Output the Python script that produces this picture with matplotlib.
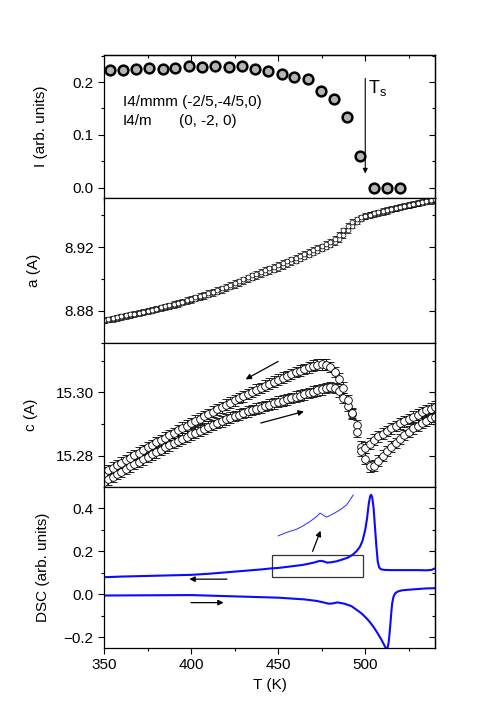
import numpy as np
import matplotlib
matplotlib.use("Agg")
import matplotlib.pyplot as plt
from matplotlib.ticker import MultipleLocator, NullFormatter
from matplotlib.patches import Rectangle

plt.rcParams['font.family'] = ['Liberation Sans', 'DejaVu Sans']
plt.rcParams['mathtext.default'] = 'regular'
plt.rcParams['font.size'] = 11

# --- panel 1: superstructure peak intensity
I_T = [353.4, 360.9, 368.2, 375.9, 383.7, 391.0, 398.9, 406.3, 413.8, 421.5, 429.0, 436.6,
       443.9, 452.0, 459.2, 467.1, 474.4, 482.0, 489.7, 497.0, 504.8, 512.3, 519.8]
I_val = [0.222, 0.223, 0.225, 0.227, 0.225, 0.227, 0.230, 0.228, 0.230, 0.228, 0.230, 0.225,
         0.221, 0.216, 0.210, 0.206, 0.183, 0.167, 0.134, 0.060, 0.0, 0.0, 0.0]

# --- panels 2, 3: lattice parameters (scan every 2.5 K)
scan_T = np.arange(350, 540.1, 2.5)

a_heat = [8.8737, 8.8743, 8.8748, 8.8754, 8.8760, 8.8766, 8.8771, 8.8777, 8.8783, 8.8789,
          8.8795, 8.8801, 8.8808, 8.8815, 8.8822, 8.8829, 8.8836, 8.8843, 8.8851, 8.8859,
          8.8867, 8.8875, 8.8884, 8.8892, 8.8901, 8.8911, 8.8920, 8.8930, 8.8940, 8.8951,
          8.8962, 8.8973, 8.8985, 8.8996, 8.9007, 8.9018, 8.9030, 8.9039, 8.9049, 8.9058,
          8.9068, 8.9080, 8.9091, 8.9103, 8.9115, 8.9127, 8.9140, 8.9152, 8.9165, 8.9177,
          8.9190, 8.9202, 8.9215, 8.9230, 8.9250, 8.9275, 8.9305, 8.9335, 8.9360, 8.9378,
          8.9392, 8.9401, 8.9408, 8.9414, 8.9420, 8.9427, 8.9435, 8.9442, 8.9450, 8.9456,
          8.9462, 8.9468, 8.9474, 8.9479, 8.9485, 8.9490, 8.9496]
a_cool = [8.8740, 8.8746, 8.8752, 8.8758, 8.8764, 8.8770, 8.8776, 8.8782, 8.8788, 8.8794,
          8.8800, 8.8806, 8.8813, 8.8820, 8.8827, 8.8834, 8.8842, 8.8849, 8.8857, 8.8866,
          8.8874, 8.8883, 8.8892, 8.8901, 8.8910, 8.8920, 8.8930, 8.8940, 8.8951, 8.8962,
          8.8973, 8.8985, 8.8997, 8.9009, 8.9021, 8.9033, 8.9045, 8.9056, 8.9066, 8.9077,
          8.9088, 8.9099, 8.9110, 8.9122, 8.9133, 8.9145, 8.9157, 8.9169, 8.9181, 8.9193,
          8.9205, 8.9218, 8.9232, 8.9250, 8.9275, 8.9305, 8.9335, 8.9358, 8.9374, 8.9386,
          8.9396, 8.9404, 8.9411, 8.9418, 8.9425, 8.9432, 8.9439, 8.9446, 8.9453, 8.9459,
          8.9465, 8.9471, 8.9477, 8.9482, 8.9488, 8.9493, 8.9499]

c_heat = [15.2718, 15.2726, 15.2734, 15.2742, 15.2750, 15.2758, 15.2766, 15.2774, 15.2781, 15.2789,
          15.2796, 15.2804, 15.2811, 15.2818, 15.2826, 15.2833, 15.2840, 15.2847, 15.2854, 15.2860,
          15.2867, 15.2873, 15.2879, 15.2885, 15.2891, 15.2897, 15.2903, 15.2909, 15.2915, 15.2920,
          15.2925, 15.2930, 15.2935, 15.2940, 15.2944, 15.2948, 15.2952, 15.2957, 15.2961, 15.2966,
          15.2970, 15.2974, 15.2978, 15.2982, 15.2986, 15.2990, 15.2994, 15.2998, 15.3002, 15.3006,
          15.3010, 15.3014, 15.3017, 15.3014, 15.3003, 15.2982, 15.2958, 15.2932, 15.2897, 15.2829,
          15.2790, 15.2766, 15.2768, 15.2784, 15.2800, 15.2815, 15.2828, 15.2840, 15.2853, 15.2865,
          15.2876, 15.2886, 15.2895, 15.2904, 15.2911, 15.2918, 15.2923]
c_cool = [15.2746, 15.2754, 15.2762, 15.2770, 15.2778, 15.2786, 15.2794, 15.2802, 15.2810, 15.2818,
          15.2826, 15.2834, 15.2842, 15.2849, 15.2857, 15.2865, 15.2872, 15.2880, 15.2888, 15.2895,
          15.2903, 15.2910, 15.2917, 15.2925, 15.2932, 15.2939, 15.2946, 15.2953, 15.2961, 15.2968,
          15.2975, 15.2982, 15.2988, 15.2995, 15.3001, 15.3008, 15.3014, 15.3021, 15.3027, 15.3034,
          15.3040, 15.3046, 15.3052, 15.3058, 15.3064, 15.3069, 15.3074, 15.3079, 15.3084, 15.3087,
          15.3089, 15.3087, 15.3080, 15.3064, 15.3043, 15.3015, 15.2975, 15.2935, 15.2876, 15.2815,
          15.2825, 15.2838, 15.2850, 15.2861, 15.2870, 15.2878, 15.2887, 15.2894, 15.2902, 15.2909,
          15.2916, 15.2923, 15.2930, 15.2937, 15.2943, 15.2949, 15.2955]

a_err = 0.0017
c_err = 0.0017

# --- panel 4: DSC
dsc_cool_T = [350, 360, 375, 390, 400, 410, 425, 440, 446, 450, 458, 464, 470, 474, 476, 478,
              480, 483, 486, 490, 493, 495, 497, 498.5, 500, 501, 502, 502.8, 503.4, 504, 504.8,
              505.6, 506.4, 507.2, 508, 509, 511, 515, 520, 525, 530, 535, 538, 540]
dsc_cool = [0.079, 0.082, 0.085, 0.088, 0.090, 0.095, 0.105, 0.115, 0.120, 0.122, 0.130, 0.136,
            0.146, 0.155, 0.153, 0.147, 0.148, 0.152, 0.159, 0.170, 0.185, 0.200, 0.221, 0.250,
            0.300, 0.350, 0.420, 0.455, 0.462, 0.450, 0.400, 0.310, 0.221, 0.150, 0.124, 0.116,
            0.113, 0.112, 0.112, 0.112, 0.112, 0.111, 0.113, 0.120]
dsc_heat_T = [350, 375, 400, 425, 450, 465, 472, 476, 479, 481, 484, 488, 492, 495, 498, 501,
              503, 505, 507, 509, 510.5, 511.5, 512.2, 512.8, 513.4, 514.0, 514.5, 515.0, 515.5,
              516.2, 517.2, 518.5, 521, 525, 530, 535, 540]
dsc_heat = [-0.006, -0.005, -0.004, -0.010, -0.016, -0.024, -0.031, -0.038, -0.044, -0.043,
            -0.038, -0.044, -0.055, -0.072, -0.090, -0.114, -0.133, -0.155, -0.180, -0.207,
            -0.230, -0.246, -0.255, -0.250, -0.225, -0.180, -0.130, -0.080, -0.040, -0.012,
            0.004, 0.012, 0.018, 0.021, 0.024, 0.027, 0.028]
# magnified part of the cooling curve
zoom_T = [450.0, 454.8, 460.6, 464.4, 468.3, 472.1, 474.0, 477.8, 481.7, 485.5, 489.3, 493.1]
zoom_dsc = [0.271, 0.287, 0.302, 0.318, 0.338, 0.361, 0.377, 0.358, 0.374, 0.392, 0.415, 0.461]

fig = plt.figure(figsize=(4.91, 7.21), dpi=100)
L, W = 0.2118, 0.674
ax1 = fig.add_axes([L, 0.7254, W, 0.1983])
ax2 = fig.add_axes([L, 0.5243, W, 0.2011])
ax3 = fig.add_axes([L, 0.3245, W, 0.1998])
ax4 = fig.add_axes([L, 0.1012, W, 0.2233])
axes = [ax1, ax2, ax3, ax4]
y_major = [0.1, 0.04, 0.02, 0.2]

for ax, ym in zip(axes, y_major):
    ax.set_xlim(350, 540)
    ax.xaxis.set_major_locator(MultipleLocator(50))
    ax.xaxis.set_minor_locator(MultipleLocator(25))
    ax.yaxis.set_major_locator(MultipleLocator(ym))
    ax.yaxis.set_minor_locator(MultipleLocator(ym / 2))
    for s in ax.spines.values():
        s.set_linewidth(0.9)
    ax.tick_params(which='both', direction='out', width=0.8, labelsize=11)
    ax.tick_params(which='major', length=4)
    ax.tick_params(which='minor', length=2.5)
    if ax is not ax4:
        ax.tick_params(labelbottom=False)
    # inward ticks on the right-hand axis, no labels
    sec = ax.secondary_yaxis('right')
    sec.yaxis.set_major_locator(MultipleLocator(ym))
    sec.yaxis.set_minor_locator(MultipleLocator(ym / 2))
    sec.yaxis.set_major_formatter(NullFormatter())
    sec.tick_params(which='both', direction='in', width=0.8)
    sec.tick_params(which='major', length=4)
    sec.tick_params(which='minor', length=2.5)
    sec.spines['right'].set_linewidth(0.9)

top = ax1.secondary_xaxis('top')
top.xaxis.set_major_locator(MultipleLocator(50))
top.xaxis.set_minor_locator(MultipleLocator(25))
top.xaxis.set_major_formatter(NullFormatter())
top.tick_params(which='both', direction='in', width=0.8)
top.tick_params(which='major', length=4)
top.tick_params(which='minor', length=2.5)
top.spines['top'].set_linewidth(0.9)

# panel 1
ax1.plot(I_T, I_val, 'o', ms=7, mfc='#b4b4b4', mec='k', mew=1.8, clip_on=False, zorder=3)
ax1.set_ylim(-0.019, 0.251)
ax1.set_ylabel('I (arb. units)')
ax1.yaxis.set_label_coords(-0.17, 0.5)
ax1.text(360.9, 0.162, 'I4/mmm (-2/5,-4/5,0)', fontsize=11, va='center')
ax1.text(360.9, 0.126, 'I4/m', fontsize=11, va='center')
ax1.text(393.0, 0.126, '(0, -2, 0)', fontsize=11, va='center')
ax1.annotate('', xy=(500, 0.022), xytext=(500, 0.212),
             arrowprops=dict(arrowstyle='-|>', color='k', lw=0.8, mutation_scale=7))
ax1.text(501.5, 0.188, 'T$_s$', fontsize=13, va='center')

# panel 2
for y in (a_heat, a_cool):
    ax2.errorbar(scan_T, y, yerr=a_err, fmt='o', ms=3.5, mfc='white', mec='k', mew=0.5,
                 ecolor='k', elinewidth=0.5, capsize=2, capthick=0.5)
ax2.set_ylim(8.8597, 8.9508)
ax2.set_ylabel('a (A)')
ax2.yaxis.set_label_coords(-0.19, 0.5)

# panel 3
for y in (c_heat, c_cool):
    ax3.errorbar(scan_T, y, yerr=c_err, fmt='o', ms=5.5, mfc='white', mec='k', mew=0.6,
                 ecolor='k', elinewidth=0.6, capsize=2.8, capthick=0.6)
ax3.set_ylim(15.2701, 15.3156)
ax3.set_ylabel('c (A)')
ax3.yaxis.set_label_coords(-0.2, 0.5)
arr = dict(arrowstyle='-|>', color='k', lw=0.9, mutation_scale=8)
ax3.annotate('', xy=(429.9, 15.3037), xytext=(451.4, 15.3102), arrowprops=arr)
ax3.annotate('', xy=(466.3, 15.2942), xytext=(438.5, 15.2901), arrowprops=arr)

# panel 4
ax4.plot(dsc_cool_T, dsc_cool, color='#0a0aff', lw=1.5)
ax4.plot(dsc_heat_T, dsc_heat, color='#0a0aff', lw=1.5)
ax4.plot(zoom_T, zoom_dsc, color='#2a2aff', lw=0.7)
ax4.add_patch(Rectangle((446.2, 0.082), 52.7, 0.101, fill=False, ec='#333333', lw=0.9))
ax4.annotate('', xy=(474.9, 0.307), xytext=(469.2, 0.187), arrowprops=arr)
ax4.annotate('', xy=(397.4, 0.070), xytext=(422.2, 0.070), arrowprops=arr)
ax4.annotate('', xy=(420.3, -0.039), xytext=(398.3, -0.039), arrowprops=arr)
ax4.set_ylim(-0.25, 0.498)
ax4.set_ylabel('DSC (arb. units)')
ax4.yaxis.set_label_coords(-0.163, 0.5)
ax4.set_xlabel('T (K)')

plt.savefig('out.png', dpi=100)
